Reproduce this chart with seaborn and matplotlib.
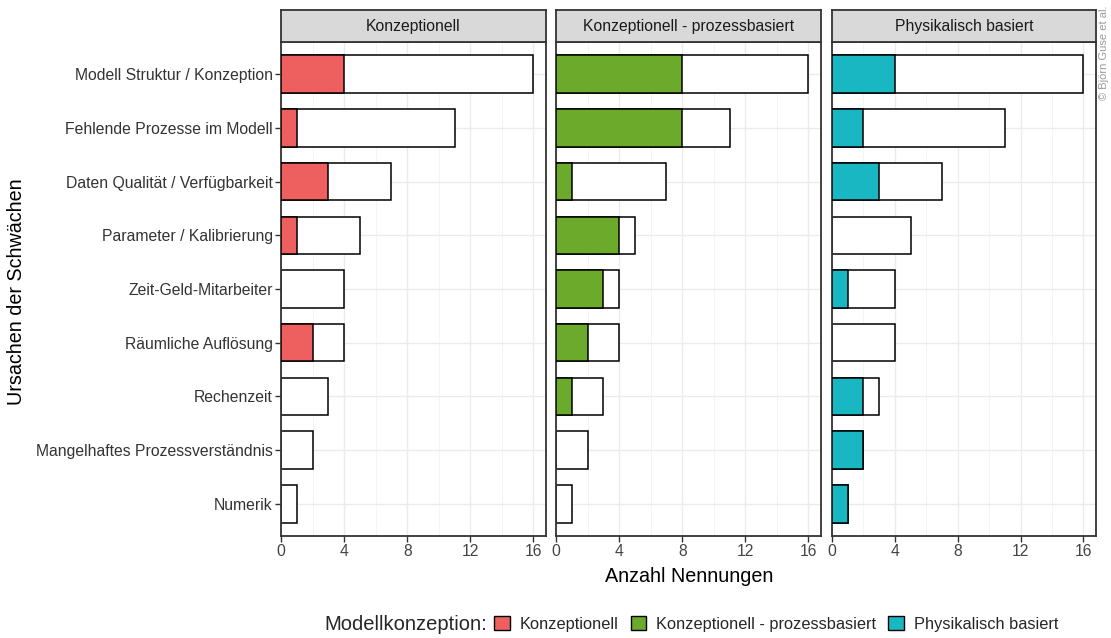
import matplotlib
matplotlib.use("Agg")
import matplotlib.pyplot as plt
from matplotlib.patches import Patch
import seaborn as sns
import pandas as pd

# Causes of model weaknesses and number of mentions
ursachen = [
    "Modell Struktur / Konzeption",
    "Fehlende Prozesse im Modell",
    "Daten Qualität / Verfügbarkeit",
    "Parameter / Kalibrierung",
    "Zeit-Geld-Mitarbeiter",
    "Räumliche Auflösung",
    "Rechenzeit",
    "Mangelhaftes Prozessverständnis",
    "Numerik",
]
gesamt = [16, 11, 7, 5, 4, 4, 3, 2, 1]
konzeptionell = [4, 1, 3, 1, 0, 2, 0, 0, 0]
konz_prozess = [8, 8, 1, 4, 3, 2, 1, 0, 0]
physikalisch = [4, 2, 3, 0, 1, 0, 2, 2, 1]

gruppen = ["Konzeptionell", "Konzeptionell - prozessbasiert", "Physikalisch basiert"]
farben = ["#EE6060", "#6BAA2B", "#18B7C2"]
werte = [konzeptionell, konz_prozess, physikalisch]
x_ticks = [0, 4, 8, 12, 16]

sns.set_theme(style="white")
plt.rcParams["font.family"] = ["Liberation Sans", "DejaVu Sans"]

W, H = 1111, 638
fig = plt.figure(figsize=(W / 100, H / 100), dpi=100)

panels = [(281, 546), (556, 821), (832, 1096)]
top_px, bot_px, strip_top_px = 42, 536, 10
edge_col = "#333333"
tick_fs = 11.3

total_df = pd.DataFrame({"Ursache": ursachen, "Anzahl": gesamt})

for i, ((x0, x1), name, col, vals) in enumerate(zip(panels, gruppen, farben, werte)):
    ax = fig.add_axes([x0 / W, 1 - bot_px / H, (x1 - x0) / W, (bot_px - top_px) / H])
    # grid
    for v in [2, 6, 10, 14]:
        ax.axvline(v, color="#f2f2f2", lw=0.6, zorder=0)
    for v in x_ticks:
        ax.axvline(v, color="#ebebeb", lw=1.0, zorder=0)
    for k in range(len(ursachen)):
        ax.axhline(k, color="#ebebeb", lw=1.0, zorder=0)

    # total mentions (white) with the group's share on top
    sns.barplot(data=total_df, y="Ursache", x="Anzahl", order=ursachen, orient="h",
                color="white", edgecolor="black", linewidth=1.1, width=0.7,
                saturation=1, ax=ax, zorder=2)
    grp_df = pd.DataFrame({"Ursache": ursachen, "Anzahl": vals})
    sns.barplot(data=grp_df, y="Ursache", x="Anzahl", order=ursachen, orient="h",
                color=col, edgecolor="black", linewidth=1.1, width=0.7,
                saturation=1, ax=ax, zorder=3)
    for p in ax.patches[len(ursachen):]:
        if p.get_width() == 0:
            p.set_visible(False)

    ax.set_xlim(0, 16.8)
    ax.set_ylim(len(ursachen) - 1 + 0.6, -0.6)
    ax.set_xticks(x_ticks)
    ax.set_xticklabels([str(t) for t in x_ticks], fontsize=tick_fs, color="#444444")
    ax.set_xlabel("")
    ax.set_ylabel("")
    ax.tick_params(axis="x", length=4, width=1, color=edge_col, pad=2, bottom=True)
    ax.set_yticks(range(len(ursachen)))
    if i == 0:
        ax.set_yticklabels(ursachen, fontsize=tick_fs, color="#333333")
        ax.tick_params(axis="y", length=4, width=1, color=edge_col, pad=2, left=True)
    else:
        ax.set_yticklabels([])
        ax.tick_params(axis="y", length=0)
    for s in ax.spines.values():
        s.set_visible(True)
        s.set_color(edge_col)
        s.set_linewidth(1.3)

    # facet strip
    sax = fig.add_axes([x0 / W, 1 - top_px / H, (x1 - x0) / W, (top_px - strip_top_px) / H])
    sax.set_facecolor("#d9d9d9")
    sax.set_xticks([])
    sax.set_yticks([])
    for s in sax.spines.values():
        s.set_color(edge_col)
        s.set_linewidth(1.3)
    sax.text(0.5, 0.5, name, ha="center", va="center", fontsize=11.3, color="#1a1a1a",
             transform=sax.transAxes)

fig.text(689 / W, 1 - 576 / H, "Anzahl Nennungen", ha="center", va="center", fontsize=14.2,
         color="black")
fig.text(17 / W, 1 - 292 / H, "Ursachen der Schwächen", ha="center", va="center",
         fontsize=14.2, rotation=90, color="black")

# legend
fig.text(324 / W, 1 - 625 / H, "Modellkonzeption:", ha="left", va="center", fontsize=14.5)
handles = [Patch(facecolor=c, edgecolor="black", linewidth=1) for c in farben]
fig.legend(handles, gruppen, loc="center left", bbox_to_anchor=(494 / W, 1 - 624 / H),
           ncol=3, frameon=False, fontsize=11.8, handlelength=0.95, handleheight=0.95,
           handletextpad=0.6, columnspacing=0.75, borderaxespad=0, borderpad=0)

fig.text(1104 / W, 1 - 5 / H, "© Björn Guse et al.", rotation=90, ha="center", va="top",
         fontsize=8, color="#9a9a9a")

fig.savefig("out.png", dpi=100, facecolor="white")
